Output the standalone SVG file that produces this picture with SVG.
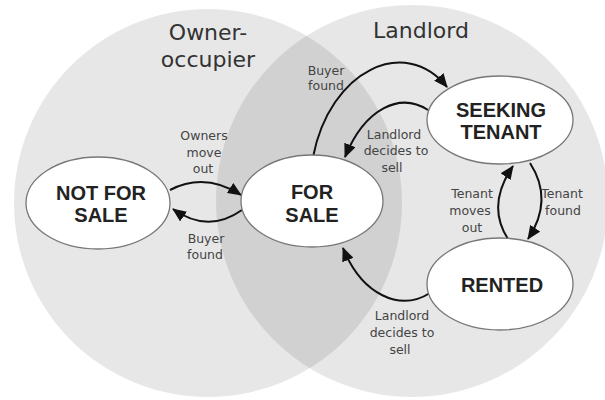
<svg xmlns="http://www.w3.org/2000/svg" width="605" height="400" viewBox="0 0 605 400">
<defs>
<marker id="ah" markerUnits="userSpaceOnUse" markerWidth="14" markerHeight="12" refX="13" refY="6" orient="auto">
<path d="M0,0 L14,6 L0,12 z" fill="#111"/>
</marker>
<style>
.region{fill:#000;fill-opacity:0.095}
.title{font-family:"DejaVu Sans",sans-serif;font-size:22px;fill:#333;text-anchor:middle}
.node ellipse{fill:#fff;stroke:#777;stroke-width:1.3}
.node text{font-family:"Liberation Sans",Arial,sans-serif;font-weight:bold;font-size:20px;fill:#222;text-anchor:middle}
.lbl{font-family:"DejaVu Sans",sans-serif;font-size:12.5px;fill:#444;text-anchor:middle}
.conn path{fill:none;stroke:#111;stroke-width:2;marker-end:url(#ah)}
</style>
</defs>
<rect width="605" height="400" fill="#fff"/>
<g id="regions">
<circle id="owner-occupier" class="region" cx="208" cy="203" r="194"/>
<circle id="landlord" class="region" cx="412" cy="201" r="196"/>
</g>
<g id="titles">
<text class="title" x="208" y="40">Owner-</text>
<text class="title" x="208" y="67">occupier</text>
<text class="title" x="421" y="38">Landlord</text>
</g>
<g id="connectors" class="conn">
<path d="M170,190 Q205,172 241,195"/>
<path d="M242,210 Q208,234 173,209"/>
<path d="M313,157 C330,70 405,35 447,87"/>
<path d="M428,110 C400,92 365,108 345,157"/>
<path d="M508,239 Q486,205 513,166"/>
<path d="M530,163 Q554,200 528,239"/>
<path d="M430,293 C400,312 362,295 343,248"/>
</g>
<g id="labels">
<text class="lbl" x="204" y="140">Owners</text>
<text class="lbl" x="204" y="157">move</text>
<text class="lbl" x="203" y="173">out</text>
<text class="lbl" x="206" y="243">Buyer</text>
<text class="lbl" x="205" y="259">found</text>
<text class="lbl" x="326" y="75">Buyer</text>
<text class="lbl" x="326" y="90">found</text>
<text class="lbl" x="394" y="139">Landlord</text>
<text class="lbl" x="396" y="155">decides to</text>
<text class="lbl" x="392" y="172">sell</text>
<text class="lbl" x="472" y="198">Tenant</text>
<text class="lbl" x="470" y="215">moves</text>
<text class="lbl" x="472" y="232">out</text>
<text class="lbl" x="562" y="198">Tenant</text>
<text class="lbl" x="563" y="215">found</text>
<text class="lbl" x="402" y="320">Landlord</text>
<text class="lbl" x="402" y="337">decides to</text>
<text class="lbl" x="400" y="354">sell</text>
</g>
<g id="not-for-sale" class="node">
<ellipse cx="98" cy="203" rx="72" ry="46"/>
<text x="101" y="200">NOT FOR</text>
<text x="101" y="222">SALE</text>
</g>
<g id="for-sale" class="node">
<ellipse cx="312" cy="201" rx="71" ry="46"/>
<text x="312" y="199">FOR</text>
<text x="312" y="222">SALE</text>
</g>
<g id="seeking-tenant" class="node">
<ellipse cx="500" cy="120" rx="73" ry="44"/>
<text x="501" y="117">SEEKING</text>
<text x="501" y="139">TENANT</text>
</g>
<g id="rented" class="node">
<ellipse cx="500" cy="284" rx="73" ry="46"/>
<text x="502" y="292">RENTED</text>
</g>
</svg>
